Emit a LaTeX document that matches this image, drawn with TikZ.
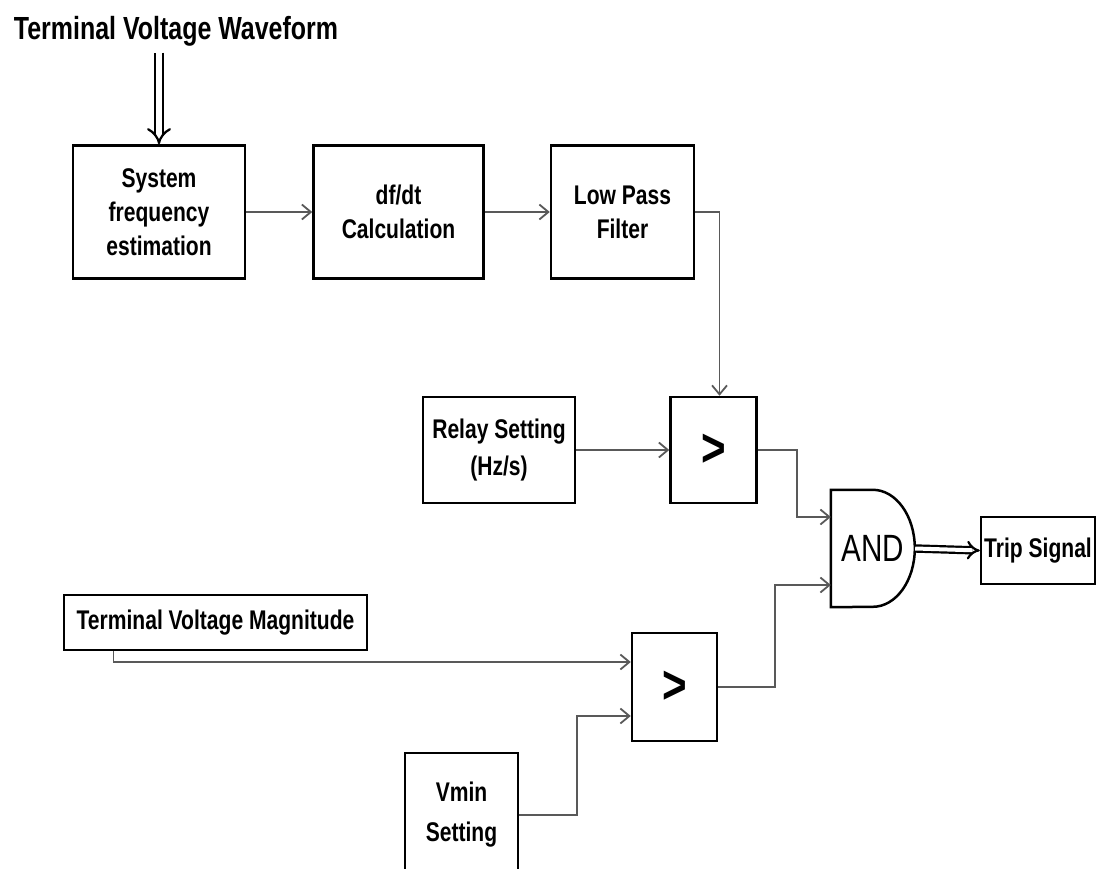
\documentclass[tikz,border=0pt]{standalone}
\usepackage{fontspec}
\setmainfont{Liberation Sans}[FakeStretch=0.78]
\usetikzlibrary{positioning,arrows.meta}
\newcommand{\blockfont}{\fontsize{27}{34}\selectfont\bfseries}

\begin{document}
\begin{tikzpicture}[
    x=1pt, y=-1pt,
    blocknode/.style={rectangle, draw=black, line width=2.5pt, fill=white, align=center, inner sep=1pt, font=\blockfont},
    cmpnode/.style={blocknode, minimum width=86pt, minimum height=106pt, font=\fontsize{54}{54}\selectfont\bfseries},
    sigline/.style={draw=black!65, line width=1.8pt, -{Straight Barb[length=9pt,width=15pt]}},
    bigarrow/.style={draw=black, double=white, double distance=6pt, line width=2.2pt, -{Implies}}
    ]
    \useasboundingbox (0,0) rectangle (1097,869);
    \clip (0,0) rectangle (1097,869);
        %Nodes
        \node[font=\fontsize{32}{36}\selectfont\bfseries]
            (title)     at (176,31)     {Terminal Voltage Waveform};
        \node[blocknode, minimum width=172pt, minimum height=133pt]
            (sfe)       at (159,212)    {System\\frequency\\estimation};
        \node[blocknode, minimum width=170pt, minimum height=133pt]
            (dfdt)      [right=66pt of sfe]     {df/dt\\Calculation};
        \node[blocknode, minimum width=143pt, minimum height=133pt]
            (lpf)       [right=65pt of dfdt]    {Low Pass\\Filter};
        \node[blocknode, minimum width=152pt, minimum height=106pt, font=\fontsize{27}{37}\selectfont\bfseries]
            (relay)     at (499,450)    {Relay Setting\\(Hz/s)};
        \node[cmpnode]
            (cmp1)      [right=93pt of relay]   {>};
        \node[minimum width=84pt, minimum height=117pt, inner sep=0pt, font=\fontsize{38}{40}\selectfont]
            (gate)      at (873,548.5)  {AND};
        \node[blocknode, minimum width=114pt, minimum height=67pt]
            (trip)      at (1038,550.5) {Trip Signal};
        \node[blocknode, minimum width=303pt, minimum height=55pt]
            (tvm)       at (215.5,622.5) {Terminal Voltage Magnitude};
        \node[cmpnode, minimum width=85pt, minimum height=108pt]
            (cmp2)      at (674.5,687)  {>};
        \node[blocknode, minimum width=113pt, minimum height=124pt, font=\fontsize{27}{40}\selectfont\bfseries]
            (vmin)      at (461.5,815)  {Vmin\\Setting};

        %Gate outline
        \draw[line width=2.5pt] (gate.north west) -- ++(42,0)
            arc[start angle=90, end angle=-90, x radius=42pt, y radius=58.5pt]
            -- (gate.south west) -- cycle;

        %Lines
        \draw[bigarrow] ([yshift=-3pt]sfe.north |- title.south) -- (sfe.north);
        \draw[sigline] (sfe.east) -- (dfdt.west);
        \draw[sigline] (dfdt.east) -- (lpf.west);
        \draw[sigline] (lpf.east) -| ([xshift=6pt]cmp1.north);
        \draw[sigline] (relay.east) -- (cmp1.west);
        \draw[sigline] (cmp1.east) -- ++(39,0) |- ([yshift=31.5pt]gate.west);
        \draw[sigline] ([xshift=-102pt]tvm.south) |- ([yshift=25pt]cmp2.west);
        \draw[sigline] (vmin.east) -- ++(58,0) |- ([yshift=-29pt]cmp2.west);
        \draw[sigline] (cmp2.east) -- ++(57,0) |- ([yshift=-36.5pt]gate.west);
        \draw[bigarrow, double distance=4pt] (gate.east) -- (trip.west);
\end{tikzpicture}
\end{document}
